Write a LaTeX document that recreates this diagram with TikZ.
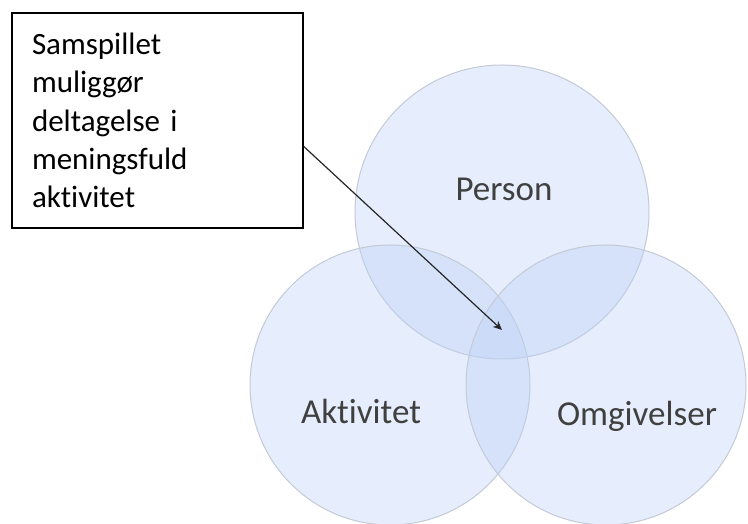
\documentclass[tikz,border=0pt]{standalone}
\usepackage{fontspec}
\setmainfont{Carlito}[Ligatures={NoCommon}]
\usepackage{xcolor}
\usetikzlibrary{shapes,arrows,arrows.meta,positioning,calc}

\definecolor{setfill}{RGB}{188,208,246}
\definecolor{setline}{RGB}{196,202,214}
\definecolor{labeltext}{RGB}{64,64,64}

\begin{document}
\begin{tikzpicture}[x=1pt, y=1pt,
    set/.style={circle, draw=setline, line width=1pt, fill=setfill, fill opacity=0.38, inner sep=0pt, outer sep=0pt},
    lbl/.style={text=labeltext, font=\fontsize{35}{40}\selectfont},
    note/.style={rectangle, draw=black, line width=1.5pt, fill=white, minimum width=291pt, minimum height=215pt,
        inner xsep=20pt, text width=251pt, align=left, font=\fontsize{31}{38.3}\selectfont},
    arrow/.style={-{Stealth[length=9pt, width=8pt]}, line width=1.2pt, draw=black!85}]

    \useasboundingbox (0,0) rectangle (748,524);

    % the three sets
    \node[set, minimum size=294pt] (P) at (502,312) {};
    \node[set, minimum size=280pt] (A) at (390,139) {};
    \node[set, minimum size=280pt] (O) at (606,139) {};

    \node[lbl] (Plabel) at (504,335) {Person};
    \node[lbl] (Alabel) at (361,113) {Aktivitet};
    \node[lbl] (Olabel) at (637,108) {Omgivelser};

    % note with arrow into the middle
    \node[note] (box) at (157.5,403.5) {Samspillet\\muliggør\\deltagelse i\\meningsfuld\\aktivitet};
    \coordinate (tip) at (502,194);

    \draw[arrow] ($(box.north east)!0.62!(box.south east)$) -- (tip);
\end{tikzpicture}
\end{document}
